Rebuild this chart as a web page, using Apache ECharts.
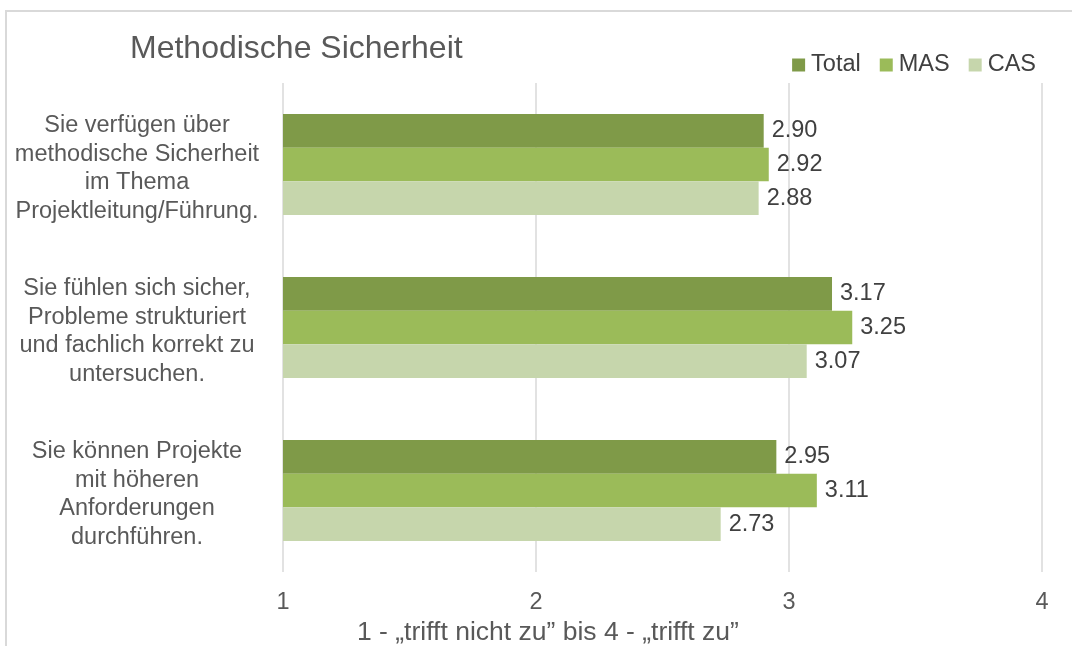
<!DOCTYPE html>
<html>
<head>
<meta charset="utf-8">
<script src="https://cdn.jsdelivr.net/npm/echarts@6/dist/echarts.min.js"></script>
<style>
  html, body { margin: 0; padding: 0; background: #fff; }
  #chart { width: 1072px; height: 646px; }
</style>
</head>
<body>
<div id="chart"></div>
<script>
// categories and values
var categories = [
  'Sie verfügen über\nmethodische Sicherheit\nim Thema\nProjektleitung/Führung.',
  'Sie fühlen sich sicher,\nProbleme strukturiert\nund fachlich korrekt zu\nuntersuchen.',
  'Sie können Projekte\nmit höheren\nAnforderungen\ndurchführen.'
]
var totalValues = [2.90, 3.17, 2.95]
var masValues = [2.92, 3.25, 3.11]
var casValues = [2.88, 3.07, 2.73]
var xTicks = [1, 2, 3, 4]

var font = 'Liberation Sans, Arial, sans-serif'

function barSeries(name, data, color) {
  return {
    name: name,
    type: 'bar',
    data: data,
    barGap: '0%',
    barCategoryGap: '38%',
    clip: true,
    itemStyle: { color: color },
    label: {
      show: true,
      position: 'right',
      distance: 8,
      color: '#404040',
      fontFamily: font,
      fontSize: 23.5,
      formatter: function (p) { return p.value.toFixed(2) }
    }
  }
}

var chart = echarts.init(document.getElementById('chart'))
chart.setOption({
  animation: false,
  backgroundColor: '#fff',
  title: {
    text: 'Methodische Sicherheit',
    left: 125,
    top: 28,
    textStyle: { color: '#595959', fontFamily: font, fontSize: 32, fontWeight: 'normal' }
  },
  legend: {
    right: 31,
    top: 48,
    itemWidth: 13,
    itemHeight: 13,
    itemGap: 19,
    icon: 'rect',
    textStyle: { color: '#404040', fontFamily: font, fontSize: 23.5, padding: [0, 0, 0, 1] },
    data: ['Total', 'MAS', 'CAS']
  },
  grid: { left: 283, right: 30, top: 83, bottom: 74 },
  xAxis: {
    type: 'value',
    min: xTicks[0],
    max: xTicks[xTicks.length - 1],
    interval: 1,
    axisLine: { show: false },
    axisTick: { show: false },
    splitLine: { lineStyle: { color: '#d9d9d9', width: 1.5 } },
    axisLabel: { color: '#595959', fontFamily: font, fontSize: 23.5, margin: 19 }
  },
  yAxis: {
    type: 'category',
    inverse: true,
    data: categories,
    axisLine: { show: false },
    axisTick: { show: false },
    axisLabel: {
      align: 'center',
      margin: 146,
      color: '#595959',
      fontFamily: font,
      fontSize: 23.5,
      lineHeight: 28.5,
      // small empty first line pushes the block down a few pixels
      formatter: function (v) { return '{s| }\n' + v },
      rich: { s: { fontSize: 4, lineHeight: 8 } }
    }
  },
  graphic: [
    {
      type: 'rect',
      silent: true,
      shape: { x: 6, y: 11, width: 1200, height: 800 },
      style: { fill: 'none', stroke: '#d9d9d9', lineWidth: 2 }
    },
    {
      type: 'text',
      left: 357,
      top: 619,
      style: {
        text: '1 - „trifft nicht zu” bis 4 - „trifft zu”',
        fill: '#595959',
        font: '26.5px ' + font
      }
    }
  ],
  series: [
    barSeries('Total', totalValues, '#7f9a48'),
    barSeries('MAS', masValues, '#9bbb59'),
    barSeries('CAS', casValues, '#c6d6ac')
  ]
})
</script>
</body>
</html>
